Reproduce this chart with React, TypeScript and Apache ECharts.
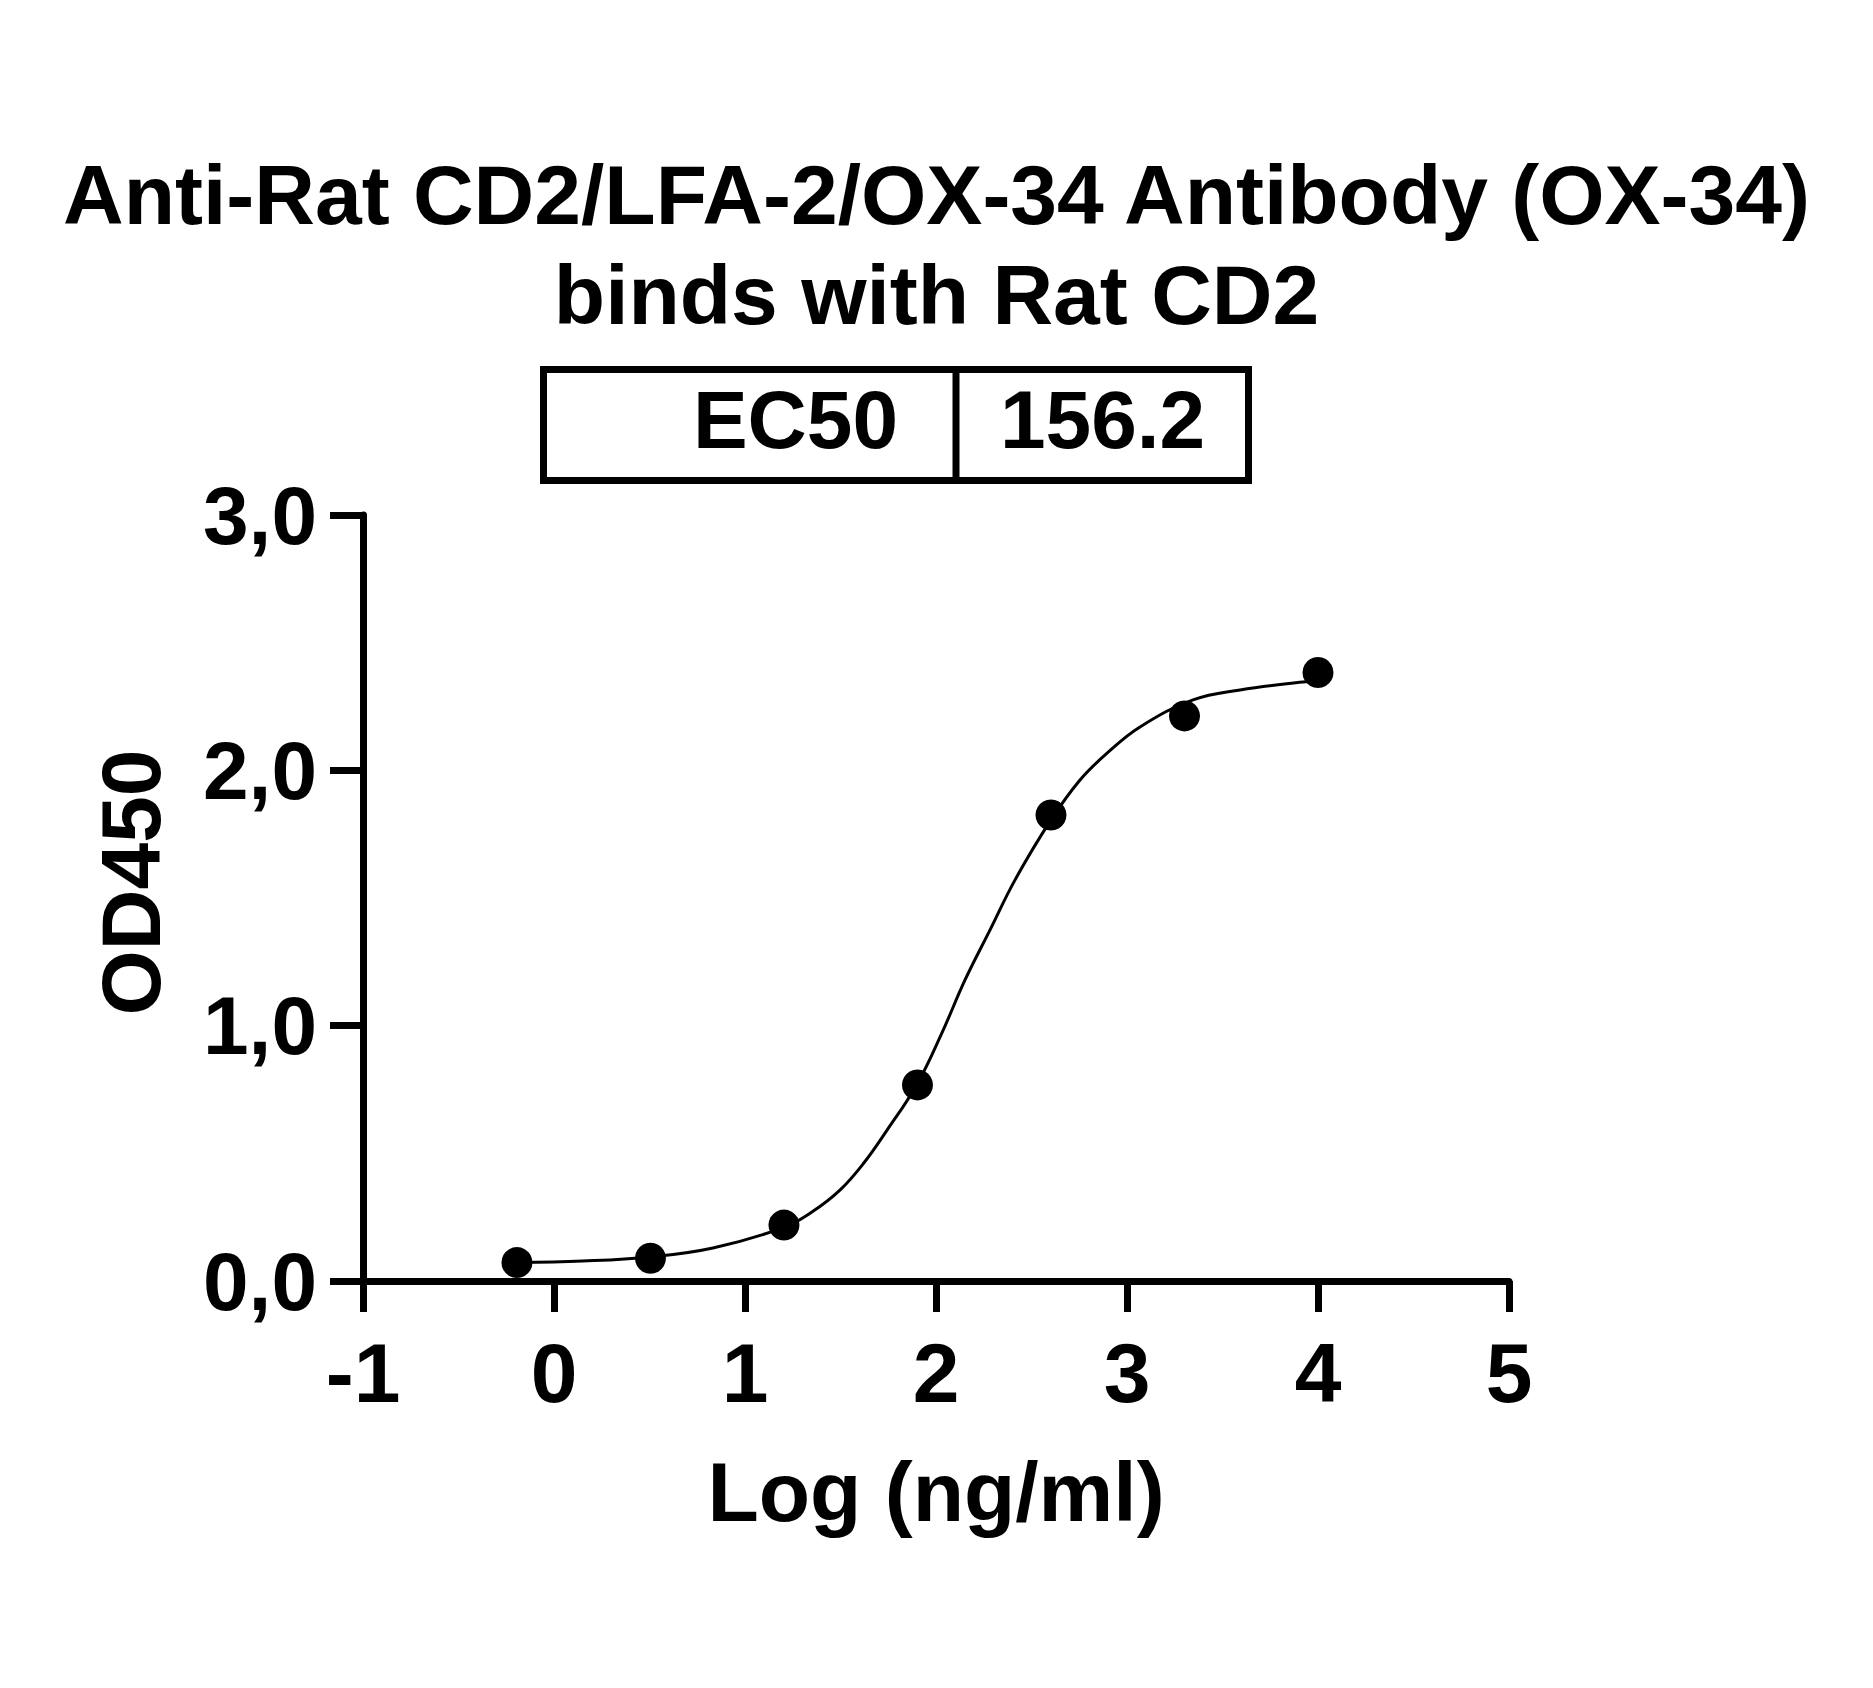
import React, { useEffect, useRef } from "react";
import * as echarts from "echarts";

// Measured points (x = log10 concentration, y = OD450)
const concLog = [-0.194, 0.505, 1.204, 1.903, 2.602, 3.301, 4.0];
const od450 = [0.072, 0.089, 0.219, 0.768, 1.825, 2.213, 2.383];

// Fitted curve
const fitLogX = [-0.194, 0.15, 0.503, 0.832, 1.204, 1.35, 1.497, 1.62, 1.743, 1.9, 2.03, 2.152, 2.283, 2.414, 2.597, 2.754, 2.9, 3.068, 3.346, 3.592, 3.921, 4.0];
const fitOD = [0.072, 0.078, 0.094, 0.129, 0.21, 0.27, 0.356, 0.46, 0.59, 0.77, 0.97, 1.179, 1.375, 1.571, 1.8, 1.962, 2.07, 2.17, 2.276, 2.315, 2.346, 2.35];

const yTickLabels = ["0,0", "1,0", "2,0", "3,0"];
const xTickLabels = ["-1", "0", "1", "2", "3", "4", "5"];

const titleText = "Anti-Rat CD2/LFA-2/OX-34 Antibody (OX-34)\nbinds with Rat CD2";
const tableLabel = "EC50";
const tableValue = "156.2";

const FONT = "'Liberation Sans', Arial, Helvetica, sans-serif";

export default function App() {
  const ref = useRef<HTMLDivElement>(null);

  useEffect(() => {
    if (!ref.current) return;
    const chart = echarts.init(ref.current, undefined, { renderer: "svg" });
    const points = concLog.map((x, i) => [x, od450[i]]);
    const curve = fitLogX.map((x, i) => [x, fitOD[i]]);
    const axisLine = { show: true, onZero: false, lineStyle: { color: "#000", width: 7 } };
    const axisTickStyle = { lineStyle: { color: "#000", width: 7 } };

    chart.setOption({
      animation: false,
      backgroundColor: "#ffffff",
      title: {
        text: titleText,
        left: "center",
        top: 145,
        padding: 0,
        textStyle: {
          fontSize: 84,
          fontWeight: "bold",
          fontFamily: FONT,
          color: "#000",
          lineHeight: 100,
        },
      },
      grid: { left: 363, top: 515, width: 1146, height: 766, containLabel: false },
      xAxis: {
        type: "value",
        min: -1,
        max: 5,
        interval: 1,
        name: "Log (ng/ml)",
        nameLocation: "middle",
        nameGap: 169,
        nameTextStyle: { fontSize: 84, fontWeight: "bold", fontFamily: FONT, color: "#000" },
        axisLine,
        axisTick: { show: true, inside: false, length: 31, ...axisTickStyle },
        splitLine: { show: false },
        axisLabel: {
          margin: 50,
          fontSize: 84,
          fontWeight: "bold",
          fontFamily: FONT,
          color: "#000",
          formatter: (v: number) => {
            const i = Math.round(v + 1);
            return xTickLabels[i] ?? String(v);
          },
        },
      },
      yAxis: {
        type: "value",
        min: 0,
        max: 3,
        interval: 1,
        name: "OD450",
        nameLocation: "middle",
        nameGap: 190,
        nameTextStyle: {
          fontSize: 84,
          fontWeight: "bold",
          fontFamily: FONT,
          color: "#000",
          padding: [0, 0, 0, 31],
        },
        axisLine,
        axisTick: { show: true, inside: false, length: 33, ...axisTickStyle },
        splitLine: { show: false },
        axisLabel: {
          margin: 46,
          fontSize: 82,
          fontWeight: "bold",
          fontFamily: FONT,
          color: "#000",
          formatter: (v: number) => yTickLabels[Math.round(v)] ?? String(v),
        },
      },
      series: [
        {
          type: "line",
          data: curve,
          smooth: 0.4,
          showSymbol: false,
          symbol: "none",
          lineStyle: { color: "#000", width: 3 },
          z: 2,
        },
        {
          type: "scatter",
          data: points,
          symbol: "circle",
          symbolSize: 31,
          itemStyle: { color: "#000", opacity: 1 },
          z: 3,
        },
      ],
      graphic: [
        {
          type: "rect",
          shape: { x: 543.5, y: 369.5, width: 705, height: 111 },
          style: { fill: "#fff", stroke: "#000", lineWidth: 7 },
          z: 10,
        },
        {
          type: "line",
          shape: { x1: 956, y1: 369.5, x2: 956, y2: 480.5 },
          style: { stroke: "#000", lineWidth: 7 },
          z: 11,
        },
        {
          type: "text",
          x: 898,
          y: 419,
          style: {
            text: tableLabel,
            fontSize: 82,
            fontWeight: "bold",
            fontFamily: FONT,
            fill: "#000",
            align: "right",
            textAlign: "right",
            verticalAlign: "middle",
            textVerticalAlign: "middle",
          },
          z: 12,
        },
        {
          type: "text",
          x: 1000,
          y: 419,
          style: {
            text: tableValue,
            fontSize: 82,
            fontWeight: "bold",
            fontFamily: FONT,
            fill: "#000",
            align: "left",
            textAlign: "left",
            verticalAlign: "middle",
            textVerticalAlign: "middle",
          },
          z: 12,
        },
      ],
    });

    return () => chart.dispose();
  }, []);

  return (
    <div
      ref={ref}
      style={{ position: "absolute", left: 0, top: 0, width: 1873, height: 1688, background: "#fff" }}
    />
  );
}
